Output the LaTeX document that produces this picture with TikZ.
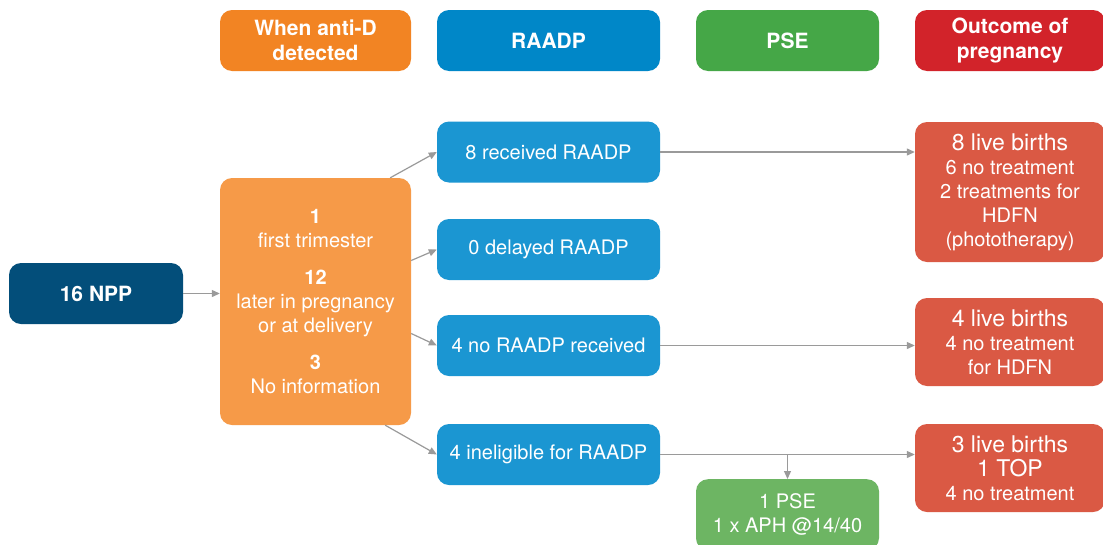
\documentclass[tikz,border=0pt]{standalone}
\usepackage{fontspec}
\setmainfont{TeX Gyre Heros}
\usetikzlibrary{calc,arrows.meta}
\definecolor{hOrange}{HTML}{F28423}
\definecolor{hBlue}{HTML}{0087C8}
\definecolor{hGreen}{HTML}{45A747}
\definecolor{hRed}{HTML}{D2232A}
\definecolor{cNavy}{HTML}{034E7A}
\definecolor{cOrange}{HTML}{F69A48}
\definecolor{cBlue}{HTML}{1B96D2}
\definecolor{cRed}{HTML}{DA5944}
\definecolor{cGreen}{HTML}{6DB563}
\definecolor{cArrow}{HTML}{9A9A9A}
\tikzset{
  box/.style={rounded corners=12pt, inner sep=0pt, align=center, text=white,
    font=\fontsize{20}{24}\selectfont},
  hdr/.style={box, font=\bfseries\fontsize{21}{25}\selectfont},
  arr/.style={draw=cArrow, line width=1.2pt, -{Triangle[length=8pt,width=7pt]}},
}
\begin{document}
\begin{tikzpicture}[x=1pt,y=-1pt]
\useasboundingbox[fill=white] (0,0) rectangle (1103,544);
% headers
\node[hdr, fill=hOrange, minimum width=191, minimum height=61] (h1) at (315.5,40.5) {When anti-D\\detected};
\node[hdr, fill=hBlue, minimum width=223, minimum height=61] (h2) at (548.5,40.5) {RAADP};
\node[hdr, fill=hGreen, minimum width=183, minimum height=61] (h3) at (787.5,40.5) {PSE};
\node[hdr, fill=hRed, minimum width=190, minimum height=61] (h4) at (1010,40.5) {Outcome of\\pregnancy};
% left
\node[box, fill=cNavy, minimum width=174, minimum height=61, font=\bfseries\fontsize{21}{25}\selectfont] (npp) at (96,293.5) {16 NPP};
\node[box, fill=cOrange, minimum width=191, minimum height=247] (mid) at (315.5,301.5)
  {\textbf{1}\\first trimester\\[13pt]\textbf{12}\\later in pregnancy\\or at delivery\\[13pt]\textbf{3}\\No information};
% RAADP column
\node[box, fill=cBlue, minimum width=223, minimum height=61] (r1) at (548.5,152) {8 received RAADP};
\node[box, fill=cBlue, minimum width=223, minimum height=61] (r2) at (548.5,249.5) {0 delayed RAADP};
\node[box, fill=cBlue, minimum width=223, minimum height=61] (r3) at (548.5,345.5) {4 no RAADP received};
\node[box, fill=cBlue, minimum width=223, minimum height=61] (r4) at (548.5,454.5) {4 ineligible for RAADP};
% PSE
\node[box, fill=cGreen, minimum width=183, minimum height=71, anchor=north] (pse) at (787.5,479) {1 PSE\\1 x APH @14/40};
% outcomes
\node[box, fill=cRed, minimum width=190, minimum height=140] (o1) at (1010,192)
  {{\fontsize{23}{26}\selectfont 8 live births}\\6 no treatment\\2 treatments for\\HDFN\\(phototherapy)};
\node[box, fill=cRed, minimum width=190, minimum height=88] (o2) at (1010,342)
  {{\fontsize{23}{26}\selectfont 4 live births}\\4 no treatment\\for HDFN};
\node[box, fill=cRed, minimum width=190, minimum height=88] (o3) at (1010,468)
  {{\fontsize{23}{26}\selectfont 3 live births}\\{\fontsize{23}{26}\selectfont 1 TOP}\\4 no treatment};
% connectors
\draw[arr] (npp.east) -- (mid.west |- npp.east);
\draw[arr] ($(mid.north east)+(-21,0)$) -- (r1.west);
\draw[arr] ($(mid.east)+(0,-41)$) -- (r2.west);
\draw[arr] ($(mid.east)+(0,32)$) -- (r3.west);
\draw[arr] ($(mid.south east)+(-26,0)$) -- (r4.west);
\draw[arr] (r1.east) -- (r1.east -| o1.west);
\draw[arr] (r3.east) -- (r3.east -| o2.west);
\draw[arr] (r4.east) -- (r4.east -| o3.west);
\draw[arr] (r4.east -| pse.north) -- (pse.north);
\end{tikzpicture}
\end{document}
